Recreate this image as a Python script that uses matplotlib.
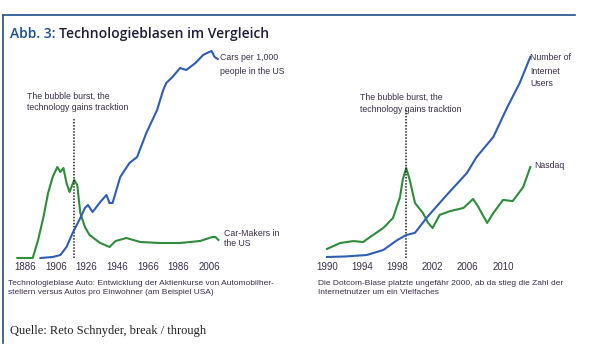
import matplotlib
matplotlib.use("Agg")
import matplotlib.pyplot as plt
from matplotlib import font_manager
from matplotlib.lines import Line2D

# --- data ------------------------------------------------------------------
# left panel: automobile bubble (USA)
car_years = [1896, 1904, 1909, 1913, 1917, 1922, 1925, 1927, 1930, 1935, 1939,
             1941, 1943, 1948, 1954, 1959, 1965, 1972, 1976, 1978, 1982, 1987,
             1991, 1997, 2002, 2004.5, 2007.5, 2009.5, 2011.5]
cars_per_1000 = [0, 4, 12, 44, 100, 160, 200, 212, 184, 224, 252, 220, 220,
                 324, 380, 404, 500, 592, 672, 700, 724, 760, 752, 780, 812,
                 820, 828, 804, 796]

maker_years = [1881, 1891, 1894.5, 1898, 1901, 1904, 1907, 1909, 1911, 1913,
               1915, 1918, 1920, 1922, 1925, 1928, 1935, 1941, 1945, 1952,
               1961, 1974, 1987, 2000, 2008, 2010, 2012]
car_makers = [0, 0, 54, 123, 195, 243, 273, 258, 270, 225, 198, 234, 219, 135,
              93, 69, 45, 33, 51, 60, 48, 45, 45, 51, 63, 63, 54]

left_ticks = [1886, 1906, 1926, 1946, 1966, 1986, 2006]
left_burst = 1918

# right panel: dotcom bubble
net_years = [1990, 1992, 1994.5, 1996.4, 1998, 1999, 2000, 2001.4, 2003.6,
             2005.9, 2007, 2008.9, 2010.5, 2011.9, 2013.1]
internet_users = [14, 20, 40, 108, 243, 310, 340, 554, 850, 1148, 1364, 1634,
                  2039, 2363, 2714]

nasdaq_years = [1990, 1991.5, 1993, 1994.1, 1994.9, 1996.4, 1997.5, 1998.3,
                1998.6, 1999.0, 1999.4, 2000.0, 2000.9, 2001.5, 2002.0, 2002.8,
                2004.0, 2005.5, 2006.6, 2007.2, 2008.2, 2008.9, 2010.0, 2011.1,
                2012.3, 2013.1]
nasdaq = [470, 780, 880, 830, 1090, 1560, 2080, 3170, 4060, 4680, 4060, 2860,
          2340, 1820, 1560, 2240, 2440, 2600, 3070, 2650, 1820, 2340, 3020,
          2960, 3690, 4730]

right_ticks = [1990, 1994, 1998, 2002, 2006, 2010]
right_burst = 1999

# --- style -----------------------------------------------------------------
W, H = 608, 360
BLUE = "#2f5cb5"
GREEN = "#2e8c3a"
FRAME = "#1f4f8f"
TXT = "#3a2f4a"
LBL = 6.3  # size of the in-chart labels

names = {f.name for f in font_manager.fontManager.ttflist}
NARROW = "Liberation Sans Narrow" if "Liberation Sans Narrow" in names else "Liberation Sans"
plt.rcParams["font.family"] = [NARROW, "DejaVu Sans"]


def px_axes(fig, x0, x1, y0, y1):
    # axes rectangle given in pixel coordinates (top-left origin)
    return fig.add_axes([x0 / W, (H - y1) / H, (x1 - x0) / W, (y1 - y0) / H])


def style(ax, ticks):
    for s in ax.spines.values():
        s.set_visible(False)
    ax.set_yticks([])
    ax.set_xticks(ticks)
    ax.set_xticklabels([str(t) for t in ticks], fontsize=7, color=TXT)
    ax.tick_params(axis="x", length=0, pad=3)
    ax.patch.set_alpha(0)


def bare(ax):
    ax.set_yticks([])
    for s in ax.spines.values():
        s.set_visible(False)


fig = plt.figure(figsize=(W / 100, H / 100), dpi=100)

# frame lines
fig.add_artist(Line2D([3 / W, 575 / W], [1 - 15 / H, 1 - 15 / H], color=FRAME, lw=1.2))
fig.add_artist(Line2D([3 / W, 3 / W], [1 - 15 / H, 1 - 343 / H], color=FRAME, lw=1.2))

# title: blue figure number, dark text right after it
t1 = fig.text(10 / W, 1 - 34 / H, "Abb. 3: ", fontsize=10, color=FRAME, family="Open Sans",
              fontweight="semibold", va="center")
fig.add_artist(plt.Annotation("Technologieblasen im Vergleich", xy=(1, 0.5), xycoords=t1,
                              va="center", ha="left", fontsize=10, color="#1e1e3a",
                              family="Open Sans", fontweight="semibold"))

# left panel
ax1 = px_axes(fig, 10, 230, 45, 258)
ax1.set_xlim(1876.2, 2019.5)
ax1.set_ylim(0, 213 * 3)
ax1.plot(maker_years, car_makers, color=GREEN, lw=1.5, clip_on=False)
ax1.vlines(left_burst, 0, 140 * 3, colors="#222222", linestyles=(0, (1, 1)), lw=1.1)
style(ax1, left_ticks)
ax1b = ax1.twinx()
ax1b.set_ylim(0, 213 * 4)
ax1b.plot(car_years, cars_per_1000, color=BLUE, lw=1.5, clip_on=False)
bare(ax1b)

ax1.text(1887.4, 3 * (258 - 96), "The bubble burst, the", fontsize=LBL, color=TXT, va="center")
ax1.text(1887.4, 3 * (258 - 108), "technology gains tracktion", fontsize=LBL, color=TXT, va="center")
ax1b.text(2013, 4 * (258 - 58), "Cars per 1,000", fontsize=LBL, color=TXT, va="center")
ax1b.text(2013, 4 * (258 - 71), "people in the US", fontsize=LBL, color=TXT, va="center")
ax1.text(2015.6, 3 * (258 - 233), "Car-Makers in", fontsize=LBL, color=TXT, va="center")
ax1.text(2015.6, 3 * (258 - 244), "the US", fontsize=LBL, color=TXT, va="center")

# right panel
ax2 = px_axes(fig, 315, 545, 45, 258)
ax2.set_xlim(1988.64, 2014.77)
ax2.set_ylim(0, 213 * 52)
ax2.plot(nasdaq_years, nasdaq, color=GREEN, lw=1.5, clip_on=False)
ax2.vlines(right_burst, 0, 150 * 52, colors="#222222", linestyles=(0, (1, 1)), lw=1.1)
style(ax2, right_ticks)
ax2b = ax2.twinx()
ax2b.set_ylim(0, 213 * 13.5)
ax2b.plot(net_years, internet_users, color=BLUE, lw=1.5, clip_on=False)
bare(ax2b)

ax2.text(1993.8, 52 * (258 - 97), "The bubble burst, the", fontsize=LBL, color=TXT, va="center")
ax2.text(1993.8, 52 * (258 - 109), "technology gains tracktion", fontsize=LBL, color=TXT, va="center")
ax2b.text(2013.1, 13.5 * (258 - 58), "Number of", fontsize=LBL, color=TXT, va="center")
ax2b.text(2013.1, 13.5 * (258 - 71), "Internet", fontsize=LBL, color=TXT, va="center")
ax2b.text(2013.1, 13.5 * (258 - 83), "Users", fontsize=LBL, color=TXT, va="center")
ax2.text(2013.5, 52 * (258 - 166), "Nasdaq", fontsize=LBL, color=TXT, va="center")

# captions
fig.text(8 / W, 1 - 288 / H,
         "Technologieblase Auto: Entwicklung der Aktienkurse von Automobilher-\n"
         "stellern versus Autos pro Einwohner (am Beispiel USA)",
         fontsize=6, color=TXT, va="center", linespacing=1.35)
fig.text(318 / W, 1 - 288 / H,
         "Die Dotcom-Blase platzte ungefähr 2000, ab da stieg die Zahl der\n"
         "Internetnutzer um ein Vielfaches",
         fontsize=6, color=TXT, va="center", linespacing=1.35)
fig.text(10 / W, 1 - 331 / H, "Quelle: Reto Schnyder, break / through", fontsize=9,
         color="#222222", family="Liberation Serif", va="center")

fig.savefig("out.png", dpi=100)
